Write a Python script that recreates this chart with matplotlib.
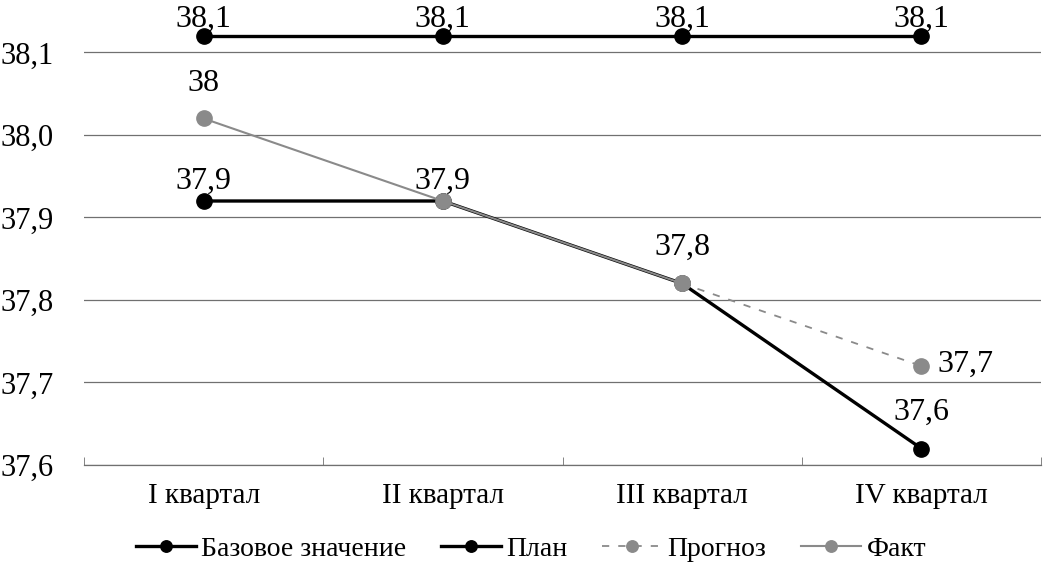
import numpy as np
import matplotlib
matplotlib.use("Agg")
import matplotlib.pyplot as plt

plt.rcParams['font.family'] = ['Liberation Serif', 'DejaVu Serif']

quarters = ['I квартал', 'II квартал', 'III квартал', 'IV квартал']
base = [38.12, 38.12, 38.12, 38.12]
plan = [37.92, 37.92, 37.82, 37.62]
forecast = [np.nan, np.nan, 37.82, 37.72]
fact = [38.02, 37.92, 37.82, np.nan]

base_labels = ['38,1', '38,1', '38,1', '38,1']
plan_labels = ['37,9', '', '', '37,6']
forecast_labels = ['', '', '', '37,7']
fact_labels = ['38', '37,9', '37,8', '']

yticks = [37.6, 37.7, 37.8, 37.9, 38.0, 38.1]
ytick_labels = ['37,6', '37,7', '37,8', '37,9', '38,0', '38,1']

fig = plt.figure(figsize=(10.44, 5.66), dpi=100)
ax = fig.add_axes([84/1044, 1-465/566, (1041-84)/1044, (465-3)/566])

x = np.arange(len(quarters))
grey = '#8a8a8a'
gridc = '#707070'

ax.plot(x, base, color='black', lw=2.4, marker='o', ms=11, label='Базовое значение', zorder=4, clip_on=False)
ax.plot(x, plan, color='black', lw=2.4, marker='o', ms=11, label='План', zorder=3, clip_on=False)
ax.plot(x, forecast, color=grey, lw=1.3, ls=(0, (4, 5)), marker='o', ms=11, label='Прогноз', zorder=5, clip_on=False)
ax.plot(x, fact, color=grey, lw=1.5, marker='o', ms=11, label='Факт', zorder=5, clip_on=False)

fs = 23
def label(xs, vs, ts, dy, dx=0, ha='center'):
    for xi, v, t in zip(xs, vs, ts):
        if t:
            ax.annotate(t, (xi, v), xytext=(dx, dy), textcoords='offset pixels',
                        ha=ha, va='center', fontsize=fs)

label(x, base, base_labels, 17)
label(x[:1], plan[:1], plan_labels[:1], 20)
label(x[3:], plan[3:], plan_labels[3:], 36)
label(x[:1], fact[:1], fact_labels[:1], 35)
label(x[1:2], fact[1:2], fact_labels[1:2], 20)
label(x[2:3], fact[2:3], fact_labels[2:3], 36)
label(x, forecast, forecast_labels, 2, dx=16, ha='left')

ax.set_xlim(-0.5, 3.5)
ax.set_ylim(37.6, 38.16)
ax.set_yticks(yticks)
ax.set_yticklabels(ytick_labels, fontsize=22)
ax.tick_params(axis='y', length=0, pad=22)
ax.set_xticks(x)
ax.set_xticklabels(quarters, fontsize=21)
ax.tick_params(axis='x', length=0, pad=13)
ax.set_xticks([-0.5, 0.5, 1.5, 2.5, 3.5], minor=True)
ax.tick_params(axis='x', which='minor', length=6, direction='in', color=gridc)
ax.grid(axis='y', color=gridc, lw=0.9)
ax.set_axisbelow(True)
for s in ['top', 'right', 'left']:
    ax.spines[s].set_visible(False)
ax.spines['bottom'].set_color(gridc)
ax.spines['bottom'].set_linewidth(0.9)

handles, labels = ax.get_legend_handles_labels()
fig.legend(handles, labels, loc='center', bbox_to_anchor=(531/1044, 1-549/566), ncol=4, frameon=False,
           fontsize=20, handlelength=2.15, columnspacing=1.25, handletextpad=0.2, markerscale=0.75)

fig.savefig('out.png', dpi=100)
